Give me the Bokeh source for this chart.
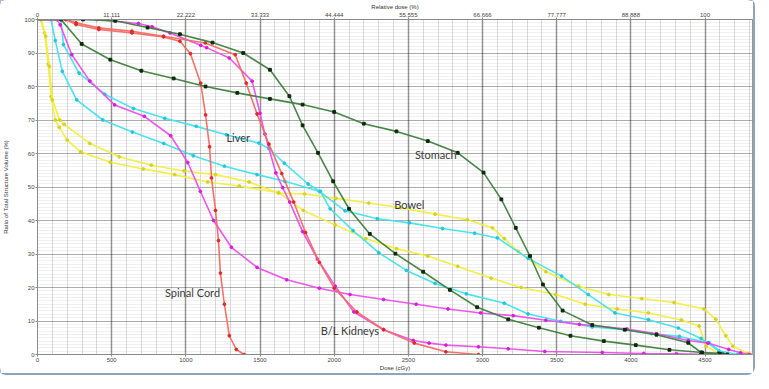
from bokeh.plotting import figure
from bokeh.models import LinearAxis, FixedTicker, Range1d, Label
from bokeh.embed import file_html
from bokeh.resources import INLINE

# ---------------- data ----------------
dose_ticks = [0, 500, 1000, 1500, 2000, 2500, 3000, 3500, 4000, 4500]
rel_dose_labels = ["0", "11.111", "22.222", "33.333", "44.444", "55.555",
                   "66.666", "77.777", "88.888", "100"]
volume_ticks = [0, 10, 20, 30, 40, 50, 60, 70, 80, 90, 100]

bowel_a_x = [0, 20, 47, 73, 91, 120, 147, 200, 291, 491, 713, 924, 1147, 1360, 1627, 1791,
             2007, 2213, 2420, 2631, 2833, 3058, 3260, 3493, 3693, 3907, 4118, 4340, 4460, 4507, 4600]
bowel_a_y = [100, 100, 96, 86.7, 77, 70, 67.8, 64, 60.5, 57.4, 55.4, 53.7, 51.5, 50.3, 48.3, 43,
             38.7, 34.6, 31.6, 29.4, 26.3, 22.8, 20, 17.9, 15, 13.6, 12.4, 10.3, 8.5, 2.5, 0]

bowel_b_x = [0, 25, 55, 80, 100, 150, 180, 353, 551, 767, 987, 1200, 1427, 1624, 1800, 2013,
             2233, 2447, 2680, 2898, 3067, 3147, 3240, 3427, 3647, 3851, 4073, 4291, 4493, 4573,
             4640, 4687, 4787, 4820]
bowel_b_y = [100, 100, 95, 86, 76, 70, 68.7, 63, 59, 56.5, 54.8, 53.7, 51.5, 48.2, 47.9, 46.6,
             45.2, 43.8, 41.9, 40.2, 37.8, 34.6, 30.8, 24.7, 20.4, 17.9, 16.7, 15.5, 13.6, 10.5,
             5.6, 2.5, 0.3, 0]

cyan_a_x = [0, 91, 120, 167, 264, 440, 640, 851, 1051, 1260, 1480, 1667, 1900, 2073, 2291,
            2507, 2731, 2947, 3100, 3307, 3533, 3713, 3893, 4118, 4320, 4473, 4593, 4720]
cyan_a_y = [100, 100, 93.7, 84.5, 76, 70, 66.4, 63, 59.3, 56.2, 53.7, 51.7, 48.7, 42.9, 40.5,
            39.3, 37.6, 36.2, 34.8, 28.7, 23.4, 17.9, 12.4, 10.4, 7.9, 4.8, 1.1, 0]

liver_x = [0, 158, 175, 280, 453, 647, 858, 1070, 1273, 1493, 1560, 1664, 1824, 1907, 1973,
           2127, 2300, 2487, 2680, 2891, 3147, 3307, 3527, 3740, 3953, 4140, 4327, 4527, 4620, 4650]
liver_y = [100, 100, 92.5, 84, 77.7, 73.4, 70.5, 68.1, 65.6, 63.1, 61.5, 57.1, 50.9, 48.7, 43.5,
           37, 30.4, 25.1, 21.2, 18.1, 15.3, 12.1, 9.9, 8.2, 7.4, 6.2, 5.4, 3.5, 0.3, 0]

magenta_a_x = [0, 130, 153, 231, 353, 520, 720, 898, 1013, 1098, 1187, 1307, 1480, 1680, 1900,
               2107, 2333, 2553, 2767, 2987, 3207, 3427, 3653, 3973, 4173, 4387, 4520, 4660, 4740, 4800]
magenta_a_y = [100, 100, 98.4, 89.5, 81.6, 74.5, 71.1, 65.3, 57.3, 48.7, 40, 32, 26, 22.3, 19.8,
               17.9, 16.4, 15, 13.6, 12.4, 11.6, 10.2, 9.0, 7.6, 6.2, 4.2, 3.4, 1.5, 0.5, 0]

kidney_m_x = [0, 400, 680, 773, 893, 1100, 1140, 1293, 1447, 1500, 1533, 1607, 1653, 1700, 1787,
              1887, 2007, 2133, 2333, 2533, 2640, 2753, 2973, 3173, 3420, 3807, 4087, 4307, 4560]
kidney_m_y = [100, 100, 98.8, 97.8, 96, 92.3, 91.6, 88.5, 81.6, 72, 65.8, 54.2, 49.8, 45.5, 36.7,
              28.5, 20.4, 12.7, 7.4, 4.2, 3.4, 2.8, 2.3, 1.7, 0.9, 0.6, 0.3, 0.2, 0]

kidney_r_x = [0, 191, 260, 413, 636, 850, 1131, 1333, 1407, 1480, 1560, 1647, 1727, 1807, 1900,
              2000, 2153, 2333, 2540, 2753, 2973]
kidney_r_y = [100, 100, 99, 97.5, 96.5, 95, 93, 89.5, 81, 71.8, 62.8, 54, 45.5, 36.4, 27.5,
              19.8, 12.7, 7.4, 3.4, 0.8, 0]

spinal_x = [0, 191, 260, 413, 636, 850, 960, 1031, 1100, 1133, 1160, 1173, 1200, 1220, 1233,
            1260, 1293, 1340, 1393]
spinal_y = [100, 100, 98.5, 97, 96, 94.8, 93.5, 89.8, 81, 71.5, 62, 52.7, 43, 34, 24.3,
            15, 5.6, 1.5, 0]

stomach_x = [0, 158, 298, 491, 700, 918, 1133, 1347, 1567, 1787, 2000, 2200, 2420, 2631, 2833,
             3007, 3127, 3224, 3320, 3407, 3540, 3740, 3960, 4173, 4387, 4473, 4593, 4620]
stomach_y = [100, 100, 92.7, 88, 84.7, 82.4, 80, 78.1, 76.3, 74.6, 72.4, 68.9, 66.6, 63.7, 60.2,
             54.3, 46.3, 37.8, 29.4, 20.9, 13.1, 8.8, 7.4, 5.9, 3.5, 0.6, 0.3, 0]

green_b_x = [0, 307, 524, 742, 960, 1180, 1387, 1567, 1698, 1787, 1891, 1993, 2100, 2240, 2413,
             2600, 2780, 2964, 3173, 3380, 3593, 3818, 4033, 4260, 4480, 4600, 4650]
green_b_y = [100, 100, 99.6, 97.6, 95.6, 93.1, 90, 85, 77.1, 68.4, 60.2, 51.7, 43.5, 36, 30.1,
             24.7, 19.3, 14.1, 10.5, 8, 5.6, 4, 2.8, 1.4, 0.6, 0.2, 0]

structure_names = ["Liver", "Stomach", "Bowel", "Spinal Cord", "B/L Kidneys"]

# ---------------- figure ----------------
p = figure(width=753, height=373, x_range=Range1d(0, 4820), y_range=Range1d(0, 100),
           output_backend="svg", toolbar_location=None,
           min_border_left=34, min_border_right=1, min_border_top=4, min_border_bottom=0)
p.styles = {"box-shadow": "0 0 0 2px #8fa3bd", "border-radius": "6px"}
p.background_fill_color = "white"
p.border_fill_color = "white"
p.outline_line_color = "#9a9a9a"

xt = FixedTicker(ticks=dose_ticks, minor_ticks=list(range(0, 4900, 100)))
yt = FixedTicker(ticks=volume_ticks, minor_ticks=list(range(0, 101, 1)))
p.xgrid.ticker = xt
p.ygrid.ticker = yt
p.xgrid.grid_line_color = "black"
p.xgrid.grid_line_alpha = 0.33
p.xgrid.grid_line_width = 1.6
p.ygrid.grid_line_color = "black"
p.ygrid.grid_line_alpha = 0.28
p.ygrid.grid_line_width = 1.2
p.xgrid.minor_grid_line_color = "black"
p.xgrid.minor_grid_line_alpha = 0.14
p.ygrid.minor_grid_line_color = "black"
p.ygrid.minor_grid_line_alpha = 0.06

bottom = p.below[0]
left = p.left[0]
bottom.ticker = xt
left.ticker = yt
top = LinearAxis(ticker=FixedTicker(ticks=dose_ticks),
                 major_label_overrides={t: l for t, l in zip(dose_ticks, rel_dose_labels)},
                 axis_label="Relative dose (%)")
p.add_layout(top, "above")

bottom.axis_label = "Dose (cGy)"
left.axis_label = "Ratio of Total Structure Volume (%)"
for ax in (bottom, left, top):
    ax.major_label_text_font_size = "6px"
    ax.major_label_text_color = "#444444"
    ax.axis_label_text_font_size = "6px"
    ax.axis_label_text_font_style = "normal"
    ax.axis_label_text_color = "#333333"
    ax.axis_label_standoff = 0
    ax.major_label_standoff = 1
    ax.major_tick_out = 2
    ax.major_tick_in = 0
    ax.minor_tick_out = 0
    ax.minor_tick_in = 0
    ax.axis_line_color = "#8a8a8a"
    ax.major_tick_line_color = "#8a8a8a"
left.axis_label_standoff = 12

def curve(xs, ys, color, mcolor, marker="circle"):
    p.line(xs, ys, line_color=color, line_width=1.6, line_alpha=0.95)
    p.scatter(xs[1:], ys[1:], size=2.8, marker=marker, fill_color=mcolor, line_color=mcolor)

yellow, yellow_m = "#f2ee3a", "#d8d21e"
cyan, cyan_m = "#42e2ee", "#1cc8dc"
magenta, magenta_m = "#ea4fea", "#d81ed8"
red, red_m = "#f36a62", "#dd2a2a"
green, green_m = "#3e7f3e", "#0e2a0e"

curve(bowel_a_x, bowel_a_y, yellow, yellow_m)
curve(bowel_b_x, bowel_b_y, yellow, yellow_m)
curve(cyan_a_x, cyan_a_y, cyan, cyan_m)
curve(liver_x, liver_y, cyan, cyan_m)
curve(magenta_a_x, magenta_a_y, magenta, magenta_m)
curve(kidney_m_x, kidney_m_y, magenta, magenta_m)
curve(kidney_r_x, kidney_r_y, red, red_m)
curve(spinal_x, spinal_y, red, red_m)
curve(stomach_x, stomach_y, green, green_m, "square")
curve(green_b_x, green_b_y, green, green_m, "square")

label_pos = [(1353, 64.8), (2685, 59.8), (2507, 44.8), (1045, 18.4), (2107, 7.2)]
for name, (lx, ly) in zip(structure_names, label_pos):
    p.add_layout(Label(x=lx, y=ly, text=name, text_align="center", text_baseline="middle",
                       text_font="Lato", text_font_size="11px", text_color="#3a3a3a"))

open("out.html", "w").write(file_html(p, INLINE))
